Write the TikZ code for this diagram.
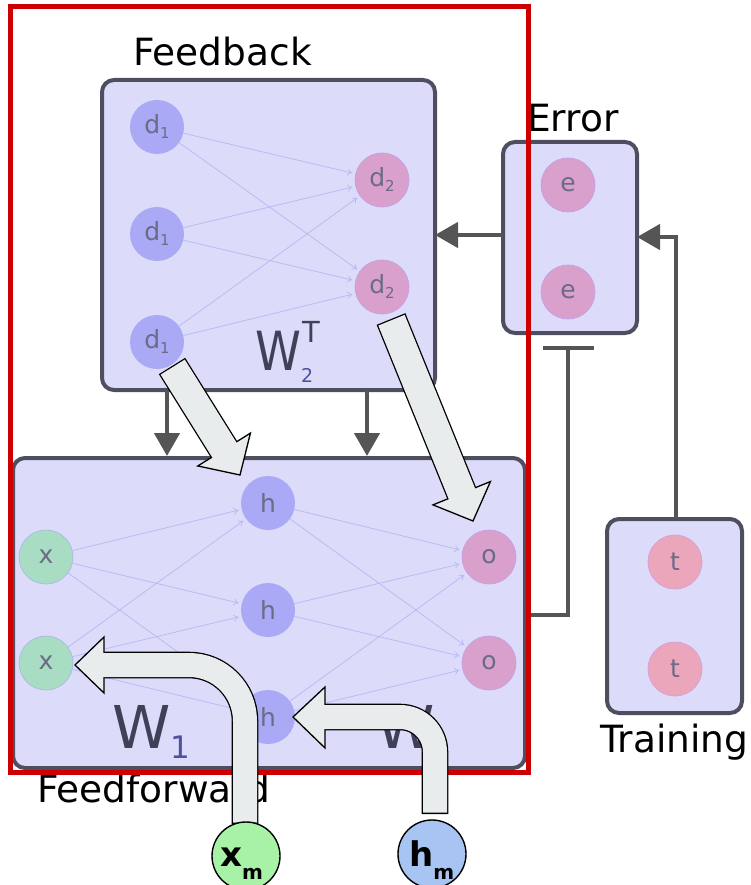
\documentclass[tikz,border=0pt]{standalone}
\usepackage{fontspec}
\setmainfont{DejaVu Sans}
\usetikzlibrary{arrows.meta,calc}
\definecolor{boxfill}{HTML}{DCDCFA}
\definecolor{boxborder}{HTML}{4E4E5E}
\definecolor{bluenode}{HTML}{A9A9F6}
\definecolor{pinknode}{HTML}{D9A0CC}
\definecolor{pinkbord}{HTML}{C8A0E6}
\definecolor{tnode}{HTML}{EBA6BC}
\definecolor{greennode}{HTML}{A8DDC4}
\definecolor{nodetext}{HTML}{6B6B85}
\definecolor{netline}{HTML}{BABAF4}
\definecolor{conn}{HTML}{555555}
\definecolor{redframe}{HTML}{CC0000}
\definecolor{blockfill}{HTML}{E8ECEC}
\definecolor{xmfill}{HTML}{A8F2A8}
\definecolor{hmfill}{HTML}{A8C4F2}
\definecolor{wtext}{HTML}{404058}
\definecolor{wsub}{HTML}{5050A0}
\newcommand{\nodefont}{\fontsize{25}{25}\selectfont}
\newcommand{\subfont}{\fontsize{15}{15}\selectfont}
\newcommand{\labfont}{\fontsize{37.5}{40}\selectfont}
\tikzset{
  layerbox/.style={draw=boxborder, fill=boxfill, line width=4pt, rounded corners=12pt},
  neuron/.style={circle, minimum size=54pt, inner sep=0pt, text=nodetext, font=\nodefont},
  bluen/.style={neuron, fill=bluenode},
  pinkn/.style={neuron, fill=pinknode, draw=pinkbord, line width=0.8pt},
  tn/.style={neuron, fill=tnode, draw=pinkbord!60!tnode, line width=0.8pt},
  greenn/.style={neuron, fill=greennode, draw=bluenode!60!greennode, line width=0.8pt},
  netarrow/.style={draw=netline, line width=0.8pt, -{To[length=5pt,width=7pt]}, shorten >=3pt},
  connarrow/.style={draw=conn, line width=4.5pt, -{Triangle[length=23pt,width=25pt]}},
  connline/.style={draw=conn, line width=4.5pt},
  biglabel/.style={anchor=base west, inner sep=0pt, font=\labfont},
  memnode/.style={circle, draw=black, line width=1.4pt, minimum size=68pt, inner sep=0pt},
}
\newcommand{\blockarr}[2]{%
  \draw[black, line width=31pt] (#1) -- ($(#2)!30pt!(#1)$);
  \filldraw[fill=blockfill, draw=black, line width=1.3pt, line join=miter]
    ($(#2)!30pt!(#1)!31pt!90:(#2)$) -- (#2) -- ($(#2)!30pt!(#1)!31pt!-90:(#2)$) -- cycle;
  \draw[blockfill, line width=28.4pt] ($(#1)!1.3pt!(#2)$) -- ($(#2)!27pt!(#1)$);
}
\begin{document}
\begin{tikzpicture}[x=1pt, y=-1pt]
\useasboundingbox (0,0) rectangle (750,885);

% ---------- boxes ----------
\draw[layerbox] (102,80) rectangle (435,390);
\draw[layerbox] (13,458) rectangle (525,768);
\draw[layerbox] (503,142) rectangle (637,333);
\draw[layerbox] (607,519) rectangle (742,713);
\coordinate (fbR) at (435,235);
\coordinate (errL) at (503,235);
\coordinate (errR) at (637,237);
\coordinate (trT) at (676,519);
\coordinate (trCorner) at (676,237);
\coordinate (fbB1) at (167,390);
\coordinate (fbB2) at (367,390);
\coordinate (ffT1) at (167,456);
\coordinate (ffT2) at (367,456);
\coordinate (barL) at (543,348);
\coordinate (barR) at (594,348);
\coordinate (barM) at (568,348);
\coordinate (barCorner) at (568,615);
\coordinate (ffR) at (525,615);

% ---------- labels ----------
\node[biglabel] (lfb) at (133,66) {Feedback};
\node[biglabel] (lerr) at (527,132) {Error};
\node[biglabel] (lff) at (37,802) {Feedforward};
\node[biglabel] (ltr) at (600,752) {Training};

% ---------- neurons ----------
\node[bluen] (d1a) at (157,127) {d\raisebox{-5pt}{\subfont 1}};
\node[bluen] (d1b) at (157,234) {d\raisebox{-5pt}{\subfont 1}};
\node[bluen] (d1c) at (157,342) {d\raisebox{-5pt}{\subfont 1}};
\node[pinkn] (d2a) at (382,180) {d\raisebox{-5pt}{\subfont 2}};
\node[pinkn] (d2b) at (382,287) {d\raisebox{-5pt}{\subfont 2}};
\node[pinkn] (e1) at (568,185) {e};
\node[pinkn] (e2) at (568,292) {e};
\node[greenn] (x1) at (46,557) {x};
\node[greenn] (x2) at (46,663) {x};
\node[bluen] (h1) at (268,503) {h};
\node[bluen] (h2) at (268,610) {h};
\node[bluen] (h3) at (268,717) {h};
\node[pinkn] (o1) at (489,557) {o};
\node[pinkn] (o2) at (489,663) {o};
\node[tn] (t1) at (675,562) {t};
\node[tn] (t2) at (675,669) {t};

% ---------- weights ----------
\foreach \s in {d1a,d1b,d1c}{\foreach \t in {d2a,d2b}{\draw[netarrow] (\s) -- (\t);}}
\foreach \s in {x1,x2}{\foreach \t in {h1,h2,h3}{\draw[netarrow] (\s) -- (\t);}}
\foreach \s in {h1,h2,h3}{\foreach \t in {o1,o2}{\draw[netarrow] (\s) -- (\t);}}

% ---------- W labels ----------
\node[anchor=base west, inner sep=0pt, text=wtext, font=\fontsize{54}{54}\selectfont] (w2t) at (255,370)
  {\scalebox{0.86}[1]{W}\raisebox{-12pt}{\textcolor{wsub}{\fontsize{19}{19}\selectfont 2}}\hspace{-11pt}\raisebox{28pt}{\fontsize{29}{29}\selectfont T}};
\node[anchor=base west, inner sep=0pt, text=wtext, font=\fontsize{59}{59}\selectfont] (w1) at (112,748)
  {W\raisebox{-10pt}{\textcolor{wsub}{\fontsize{31}{31}\selectfont 1}}};
\node[anchor=base west, inner sep=0pt, text=wtext, font=\fontsize{59}{59}\selectfont] (w2) at (376,748) {W};

% ---------- connectors ----------
\draw[connarrow] (errL) -- (fbR);
\draw[connarrow] (trT) -- (trCorner) -- (errR);
\draw[connarrow] (fbB1) -- (ffT1);
\draw[connarrow] (fbB2) -- (ffT2);
\draw[connline] (barL) -- (barR);
\draw[connline] (barM) -- (barCorner) -- (ffR);

% ---------- red frame ----------
\draw[redframe, line width=5pt] (10,7) rectangle (528,772);

% ---------- block arrows ----------
\coordinate (ba1s) at (172,366);
\coordinate (ba1e) at (240,475);
\coordinate (ba2s) at (391,319);
\coordinate (ba2e) at (473,521);
\blockarr{ba1s}{ba1e}
\blockarr{ba2s}{ba2e}

% curved arrow from x_m
\coordinate (xmS) at (245,824);
\coordinate (xmC) at (245,665);
\coordinate (xmB) at (104,665);
\coordinate (xmTip) at (75,665);
\draw[black, line width=26.6pt, rounded corners=56pt] (xmS) -- (xmC) -- (xmB);
\filldraw[fill=blockfill, draw=black, line width=1.3pt, line join=miter] (104,637) -- (xmTip) -- (104,693) -- cycle;
\draw[blockfill, line width=24pt, rounded corners=56pt] ($(xmS)+(0,-1.3)$) -- (xmC) -- (101,665);

% curved arrow from h_m
\coordinate (hmS) at (435,814);
\coordinate (hmC) at (435,717);
\coordinate (hmB) at (325,717);
\coordinate (hmTip) at (293,717);
\draw[black, line width=26.6pt, rounded corners=35pt] (hmS) -- (hmC) -- (hmB);
\filldraw[fill=blockfill, draw=black, line width=1.3pt, line join=miter] (325,687) -- (hmTip) -- (325,748) -- cycle;
\draw[blockfill, line width=24pt, rounded corners=35pt] ($(hmS)+(0,-1.3)$) -- (hmC) -- (322,717);

% ---------- memory nodes ----------
\node[memnode, fill=xmfill] (xm) at (246,856) {};
\node[memnode, fill=hmfill] (hm) at (432,854) {};
\node[anchor=base west, inner sep=0pt, font=\fontsize{34}{34}\selectfont\bfseries] (xmlab) at (220,866)
  {x\raisebox{-13pt}{\fontsize{20}{20}\selectfont m}};
\node[anchor=base west, inner sep=0pt, font=\fontsize{34}{34}\selectfont\bfseries] (hmlab) at (409,866)
  {h\raisebox{-13pt}{\fontsize{20}{20}\selectfont m}};
\end{tikzpicture}
\end{document}
